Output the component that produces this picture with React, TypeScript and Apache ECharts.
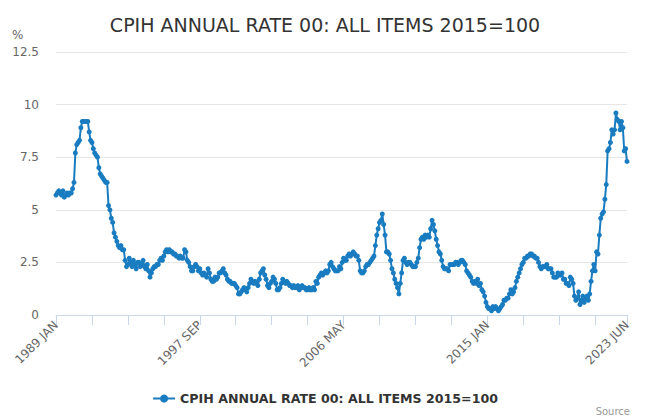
import React, { useEffect, useRef } from "react";
import * as echarts from "echarts";

const TITLE = "CPIH ANNUAL RATE 00: ALL ITEMS 2015=100";
const SERIES_NAME = "CPIH ANNUAL RATE 00: ALL ITEMS 2015=100";
const MONTHS = ["JAN", "FEB", "MAR", "APR", "MAY", "JUN", "JUL", "AUG", "SEP", "OCT", "NOV", "DEC"];
const FIRST_YEAR = 1989;
const LAST_YEAR = 2023;
const LAST_MONTH_COUNT = 6;

const values1989to1993 = [
  5.7, 5.8, 5.9, 5.8, 5.7, 5.9, 5.6, 5.7, 5.8, 5.7, 5.8, 5.8,
  6.0, 6.3, 7.7, 8.1, 8.2, 8.3, 8.9, 9.2, 9.2, 9.2, 9.2, 9.2,
  8.7, 8.3, 8.2, 7.9, 7.7, 7.6, 7.5, 7.0, 6.7, 6.6, 6.5, 6.4,
  6.3, 6.3, 5.2, 5.0, 4.6, 4.4, 3.9, 3.7, 3.5, 3.3, 3.2, 3.3,
  3.1, 3.1, 2.6, 2.3, 2.4, 2.7, 2.5, 2.3, 2.6, 2.4, 2.2, 2.5,
];
const values1994to1999 = [
  2.5, 2.3, 2.4, 2.6, 2.3, 2.2, 2.4, 2.1, 1.8, 2.0, 2.2, 2.3,
  2.3, 2.4, 2.4, 2.6, 2.7, 2.6, 2.8, 3.0, 3.1, 3.0, 3.1, 3.0,
  3.0, 2.9, 2.9, 2.8, 2.8, 2.7, 2.8, 2.7, 2.7, 3.1, 3.0, 2.6,
  2.5, 2.3, 2.1, 2.1, 2.3, 2.4, 2.3, 2.1, 2.2, 2.0, 1.9, 2.0,
  1.9, 1.8, 2.2, 2.0, 1.7, 1.6, 1.6, 1.8, 1.7, 1.8, 2.0, 2.0,
  2.1, 2.2, 2.0, 1.9, 1.7, 1.6, 1.6, 1.5, 1.5, 1.5, 1.4, 1.3,
];
const values2000to2005 = [
  1.0, 1.0, 1.1, 1.2, 1.3, 1.2, 1.1, 1.3, 1.5, 1.7, 1.6, 1.5,
  1.6, 1.5, 1.4, 1.7, 2.0, 2.1, 2.2, 1.9, 1.7, 1.4, 1.3, 1.5,
  1.6, 1.8, 1.7, 1.5, 1.2, 1.2, 1.3, 1.5, 1.7, 1.6, 1.5, 1.6,
  1.5, 1.4, 1.4, 1.3, 1.4, 1.3, 1.3, 1.4, 1.2, 1.3, 1.4, 1.3,
  1.3, 1.2, 1.2, 1.3, 1.2, 1.2, 1.3, 1.2, 1.6, 1.5, 1.8, 1.9,
  2.0, 1.9, 2.0, 2.1, 2.0, 2.1, 2.4, 2.5, 2.3, 2.2, 2.1, 2.1,
];
const values2006to2011 = [
  2.1, 2.3, 2.2, 2.5, 2.7, 2.6, 2.6, 2.8, 2.9, 2.8, 2.9, 3.0,
  2.9, 2.8, 2.8, 2.6, 2.1, 2.0, 2.0, 2.1, 2.3, 2.4, 2.4, 2.5,
  2.6, 2.7, 2.8, 3.3, 3.8, 4.1, 4.4, 4.5, 4.8, 4.3, 3.8, 3.0,
  3.0, 2.9, 2.6, 2.2, 2.0, 1.7, 1.5, 1.3, 1.0, 1.5, 2.0, 2.6,
  2.7, 2.5, 2.4, 2.5, 2.5, 2.4, 2.3, 2.3, 2.3, 2.5, 2.7, 3.2,
  3.6, 3.7, 3.6, 3.8, 3.7, 3.8, 3.7, 4.1, 4.5, 4.3, 4.0, 3.6,
];
const values2012to2017 = [
  3.3, 3.0, 2.9, 2.6, 2.3, 2.2, 2.2, 2.2, 2.1, 2.4, 2.4, 2.4,
  2.4, 2.5, 2.5, 2.4, 2.5, 2.6, 2.6, 2.5, 2.4, 2.1, 2.0, 1.9,
  1.8, 1.6, 1.5, 1.6, 1.5, 1.7, 1.4, 1.5, 1.2, 1.1, 0.9, 0.6,
  0.4, 0.3, 0.3, 0.2, 0.4, 0.3, 0.4, 0.3, 0.2, 0.3, 0.4, 0.5,
  0.7, 0.7, 0.8, 0.8, 1.0, 1.2, 1.0, 1.1, 1.3, 1.6, 1.8, 2.0,
  2.2, 2.4, 2.5, 2.7, 2.7, 2.8, 2.8, 2.9, 2.9, 2.8, 2.8, 2.7,
];
const values2018to2023 = [
  2.7, 2.5, 2.3, 2.2, 2.3, 2.3, 2.3, 2.4, 2.2, 2.2, 2.2, 2.0,
  1.8, 1.8, 1.8, 2.0, 1.9, 1.9, 2.0, 1.7, 1.7, 1.5, 1.5, 1.4,
  1.8, 1.7, 1.5, 0.9, 0.7, 0.8, 1.1, 0.5, 0.7, 0.9, 0.6, 0.8,
  0.9, 0.7, 1.0, 1.6, 2.1, 2.4, 2.1, 3.0, 2.9, 3.8, 4.6, 4.8,
  4.9, 5.5, 6.2, 7.8, 7.9, 8.2, 8.8, 8.6, 8.8, 9.6, 9.3, 9.2,
  8.8, 9.2, 8.9, 7.8, 7.9, 7.3,
];

const yTicks = { min: 0, max: 12.5, interval: 2.5 };
const LABEL_EVERY = 104;
const TICK_EVERY = 26;

function buildCategories(): string[] {
  const out: string[] = [];
  for (let y = FIRST_YEAR; y <= LAST_YEAR; y++) {
    const n = y === LAST_YEAR ? LAST_MONTH_COUNT : 12;
    for (let m = 0; m < n; m++) out.push(`${y} ${MONTHS[m]}`);
  }
  return out;
}

export default function App() {
  const ref = useRef<HTMLDivElement>(null);
  useEffect(() => {
    if (!ref.current) return;
    const chart = echarts.init(ref.current, undefined, { renderer: "svg" });
    const categories = buildCategories();
    const values = [
      ...values1989to1993,
      ...values1994to1999,
      ...values2000to2005,
      ...values2006to2011,
      ...values2012to2017,
      ...values2018to2023,
    ];
    const lastIdx = categories.length - 1;
    const font = "DejaVu Sans";
    const blue = "#1a7cc0";
    chart.setOption({
      animation: false,
      textStyle: { fontFamily: font },
      title: {
        text: TITLE,
        left: "center",
        top: 10,
        textStyle: { fontSize: 19, fontWeight: "normal", color: "#333333", fontFamily: font },
      },
      legend: {
        bottom: 8,
        left: "center",
        itemWidth: 22,
        itemHeight: 10,
        itemGap: 6,
        data: [SERIES_NAME],
        textStyle: { fontSize: 12.6, fontWeight: "bold", color: "#333333", fontFamily: font },
      },
      grid: { left: 56, right: 23, top: 52, bottom: 103, containLabel: false },
      xAxis: {
        type: "category",
        data: categories,
        boundaryGap: false,
        axisLine: { lineStyle: { color: "#ccd6eb" } },
        axisTick: {
          length: 10,
          lineStyle: { color: "#ccd6eb" },
          interval: (i: number) => i % TICK_EVERY === 0 || i === lastIdx,
        },
        axisLabel: {
          rotate: 45,
          color: "#666666",
          fontSize: 12,
          margin: 8,
          fontFamily: font,
          interval: (i: number) => i % LABEL_EVERY === 0 || i === lastIdx,
        },
        splitLine: { show: false },
      },
      yAxis: {
        type: "value",
        min: yTicks.min,
        max: yTicks.max,
        interval: yTicks.interval,
        axisLine: { show: false },
        axisTick: { show: false },
        axisLabel: { color: "#666666", fontSize: 12, margin: 17, fontFamily: font },
        splitLine: { lineStyle: { color: "#e6e6e6" } },
      },
      graphic: [
        { type: "text", left: 12, top: 29, style: { text: "%", fontSize: 12, fill: "#666666", fontFamily: font } },
        { type: "text", right: 20, top: 406, style: { text: "Source", fontSize: 10, fill: "#999999", fontFamily: font } },
      ],
      series: [
        {
          name: SERIES_NAME,
          type: "line",
          data: values,
          showSymbol: true,
          showAllSymbol: true,
          symbol: "circle",
          symbolSize: 5,
          color: blue,
          lineStyle: { width: 2, color: blue },
          itemStyle: { color: blue },
        },
      ],
    });
    return () => chart.dispose();
  }, []);
  return (
    <div
      ref={ref}
      style={{ position: "fixed", left: 0, top: 0, width: 650, height: 418, background: "#fff" }}
    />
  );
}
